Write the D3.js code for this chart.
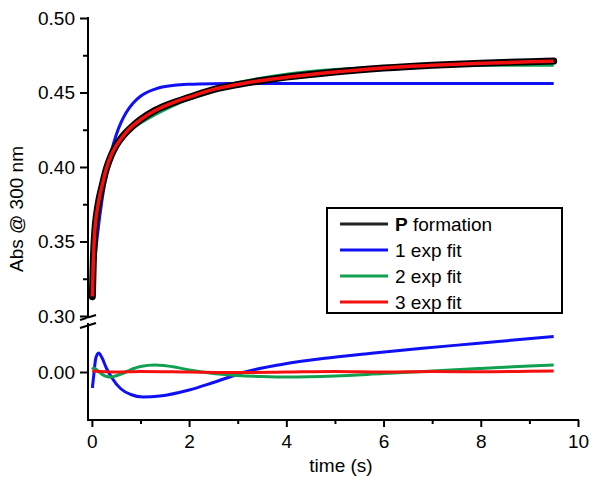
<!DOCTYPE html>
<html>
<head>
<meta charset="utf-8">
<script src="https://cdn.jsdelivr.net/npm/d3@7"></script>
<style>
  html, body { margin: 0; padding: 0; background: #fff; }
  svg { display: block; }
  text { font-family: "Liberation Sans", Arial, sans-serif; fill: #000; }
</style>
</head>
<body>
<svg id="chart" width="600" height="487"></svg>
<script>
// ---------- data ----------
const tData = [0.01,0.03,0.06,0.1,0.15,0.2,0.3,0.4,0.5,0.6,0.7,0.85,1.0,1.3,1.7,2.0,2.5,3.0,3.5,4.0,5.0,6.0,7.0,8.0,9.0,9.5];
const pFormation = [0.313,0.338,0.357,0.369,0.379,0.386,0.399,0.408,0.4145,0.4192,0.4230,0.4278,0.4318,0.4380,0.4435,0.4468,0.4520,0.4553,0.4580,0.4603,0.4638,0.4664,0.4683,0.4697,0.4707,0.4711];
const fit1 = [0.3199,0.3273,0.3376,0.3502,0.3640,0.3760,0.3956,0.4103,0.4215,0.4299,0.4363,0.4430,0.4475,0.4523,0.4548,0.4555,0.4559,0.456,0.456,0.456,0.456,0.456,0.456,0.456,0.456,0.456];
const fit2 = [0.312,0.3365,0.3555,0.3682,0.379,0.3868,0.4008,0.410,0.416,0.4200,0.4230,0.4265,0.4296,0.4352,0.4415,0.4460,0.4526,0.4567,0.4598,0.4623,0.4654,0.4670,0.4679,0.4683,0.4683,0.4683];
const fit3 = [0.3132,0.3378,0.3572,0.3692,0.3788,0.3862,0.3992,0.4082,0.4143,0.4190,0.4231,0.4279,0.4317,0.4379,0.4436,0.4469,0.4521,0.4554,0.4581,0.4602,0.4637,0.4665,0.4683,0.4696,0.4706,0.4709];

const tRes1 = [0.01,0.04,0.08,0.14,0.2,0.3,0.4,0.6,0.8,1.05,1.4,2.0,2.5,3.15,3.9,4.8,5.75,6.8,7.9,8.8,9.5];
const res1 = [-0.0064,-0.001,0.0055,0.0076,0.006,0.0015,-0.002,-0.0068,-0.009,-0.010,-0.0096,-0.0072,-0.0042,0,0.0030,0.0055,0.0075,0.0095,0.0114,0.0130,0.0142];
const res2 = [0.001,0.0015,0.0015,0.0008,0,-0.0008,-0.0018,-0.002,-0.0015,-0.0008,0,0.0013,0.0022,0.0028,0.002,0.0008,-0.0006,-0.0014,-0.0018,-0.002,-0.0016,-0.0006,0.0004,0.0014,0.0024,0.0028];
const tRes3 = [0.01,0.5,1,2,3,4,5,6,7,8,9,9.5];
const res3 = [0.0004,0,0.0002,0,-0.0002,0,0.0002,0,0.0002,0.0001,0.0003,0.0004];

const xTicks = [0,2,4,6,8,10];
const xMinorTicks = [1,3,5,7,9];
const yTicks = [0.30,0.35,0.40,0.45,0.50];
const yMinorTicks = [0.325,0.375,0.425,0.475];
const resTicks = [0.00];

const legendLabels = ["formation","1 exp fit","2 exp fit","3 exp fit"];
const colors = {p:"#222222", f1:"#1010f5", f2:"#10a050", f3:"#f51010"};

// ---------- scales ----------
const svg = d3.select("#chart");
const x = d3.scaleLinear().domain([-0.08, 10]).range([88, 578]);
const yTop = d3.scaleLinear().domain([0.30, 0.50]).range([316, 18]);
const yBot = d3.scaleLinear().domain([-0.0192, 0.02]).range([420, 322]);

const font = 19;

// ---------- curves ----------
const lineTop = d3.line().x(d => x(d[0])).y(d => yTop(d[1])).curve(d3.curveMonotoneX);
const lineBot = d3.line().x(d => x(d[0])).y(d => yBot(d[1])).curve(d3.curveMonotoneX);
const zip = (a, b) => a.map((v, i) => [v, b[i]]);

const g = svg.append("g");
// lower panel residuals
g.append("path").attr("d", lineBot(zip(tRes1, res1))).attr("fill","none").attr("stroke",colors.f1).attr("stroke-width",3);
g.append("path").attr("d", lineBot(zip(tData, res2))).attr("fill","none").attr("stroke",colors.f2).attr("stroke-width",3);
g.append("path").attr("d", lineBot(zip(tRes3, res3))).attr("fill","none").attr("stroke",colors.f3).attr("stroke-width",3);

// upper panel
g.append("path").attr("d", lineTop(zip(tData, fit1))).attr("fill","none").attr("stroke",colors.f1).attr("stroke-width",3);
g.append("path").attr("d", lineTop(zip(tData, fit2))).attr("fill","none").attr("stroke",colors.f2).attr("stroke-width",3);
g.append("path").attr("d", lineTop(zip(tData, pFormation))).attr("fill","none").attr("stroke","#000").attr("stroke-width",7)
  .attr("stroke-linecap","round").attr("stroke-linejoin","round");
g.append("path").attr("d", lineTop(zip(tData, fit3))).attr("fill","none").attr("stroke",colors.f3).attr("stroke-width",3.5);

// ---------- axes ----------
const axisStroke = 2;
const ff = '"Liberation Sans", Arial, sans-serif';
// x axis
const xAxis = svg.append("g").attr("transform","translate(0,420)")
  .call(d3.axisBottom(x).tickValues(xTicks).tickFormat(d3.format("d")).tickSize(7).tickPadding(8).tickSizeOuter(0));
xAxis.select(".domain").remove();
xAxis.selectAll(".tick line").attr("stroke","#000").attr("stroke-width",axisStroke);
xAxis.selectAll("text").attr("font-size",font).style("font-family",ff);
const xMinor = svg.append("g").attr("transform","translate(0,420)")
  .call(d3.axisBottom(x).tickValues(xMinorTicks).tickFormat("").tickSize(4).tickSizeOuter(0));
xMinor.select(".domain").remove();
xMinor.selectAll(".tick line").attr("stroke","#000").attr("stroke-width",axisStroke);
svg.append("line").attr("x1",x.range()[0]-1).attr("x2",x.range()[1]+1).attr("y1",420).attr("y2",420)
  .attr("stroke","#000").attr("stroke-width",axisStroke);

// upper y axis
const yA = svg.append("g").attr("transform","translate(88,0)")
  .call(d3.axisLeft(yTop).tickValues(yTicks).tickFormat(d3.format(".2f")).tickSize(8).tickPadding(5).tickSizeOuter(0));
yA.select(".domain").remove();
yA.selectAll(".tick line").attr("stroke","#000").attr("stroke-width",axisStroke);
yA.selectAll("text").attr("font-size",font).style("font-family",ff);
const yAm = svg.append("g").attr("transform","translate(88,0)")
  .call(d3.axisLeft(yTop).tickValues(yMinorTicks).tickFormat("").tickSize(5).tickSizeOuter(0));
yAm.select(".domain").remove();
yAm.selectAll(".tick line").attr("stroke","#000").attr("stroke-width",axisStroke);
svg.append("line").attr("x1",88).attr("x2",88).attr("y1",yTop(0.50)-1).attr("y2",318)
  .attr("stroke","#000").attr("stroke-width",axisStroke);

// lower y axis
const yB = svg.append("g").attr("transform","translate(88,0)")
  .call(d3.axisLeft(yBot).tickValues(resTicks).tickFormat(d3.format(".2f")).tickSize(8).tickPadding(5).tickSizeOuter(0));
yB.select(".domain").remove();
yB.selectAll(".tick line").attr("stroke","#000").attr("stroke-width",axisStroke);
yB.selectAll("text").attr("font-size",font).style("font-family",ff);
svg.append("line").attr("x1",88).attr("x2",88).attr("y1",323).attr("y2",421)
  .attr("stroke","#000").attr("stroke-width",axisStroke);

// break marks
[318, 326].forEach(yy => {
  svg.append("line").attr("x1",80).attr("y1",yy+2).attr("x2",96).attr("y2",yy-3)
    .attr("stroke","#000").attr("stroke-width",2);
});
svg.append("line").attr("x1",88).attr("x2",88).attr("y1",318.5).attr("y2",322.5).attr("stroke","#fff").attr("stroke-width",3);

// axis titles
svg.append("text").attr("x",341).attr("y",472).attr("text-anchor","middle").attr("font-size",font).text("time (s)");
svg.append("text").attr("transform","translate(23,209) rotate(-90)").attr("text-anchor","middle")
  .attr("font-size",font).text("Abs @ 300 nm");

// ---------- legend ----------
const lg = svg.append("g");
lg.append("rect").attr("x",327).attr("y",208).attr("width",235).attr("height",105)
  .attr("fill","#fff").attr("stroke","#000").attr("stroke-width",2);
const legendColors = [colors.p, colors.f1, colors.f2, colors.f3];
legendLabels.forEach((lab, i) => {
  const yy = 224 + i * 26;
  lg.append("line").attr("x1",340).attr("x2",388).attr("y1",yy).attr("y2",yy)
    .attr("stroke",legendColors[i]).attr("stroke-width",3);
  const t = lg.append("text").attr("x",395).attr("y",yy + 7).attr("font-size",font);
  if (i === 0) {
    t.append("tspan").attr("font-weight","bold").text("P");
    t.append("tspan").text(" " + lab);
  } else {
    t.text(lab);
  }
});
</script>
</body>
</html>
